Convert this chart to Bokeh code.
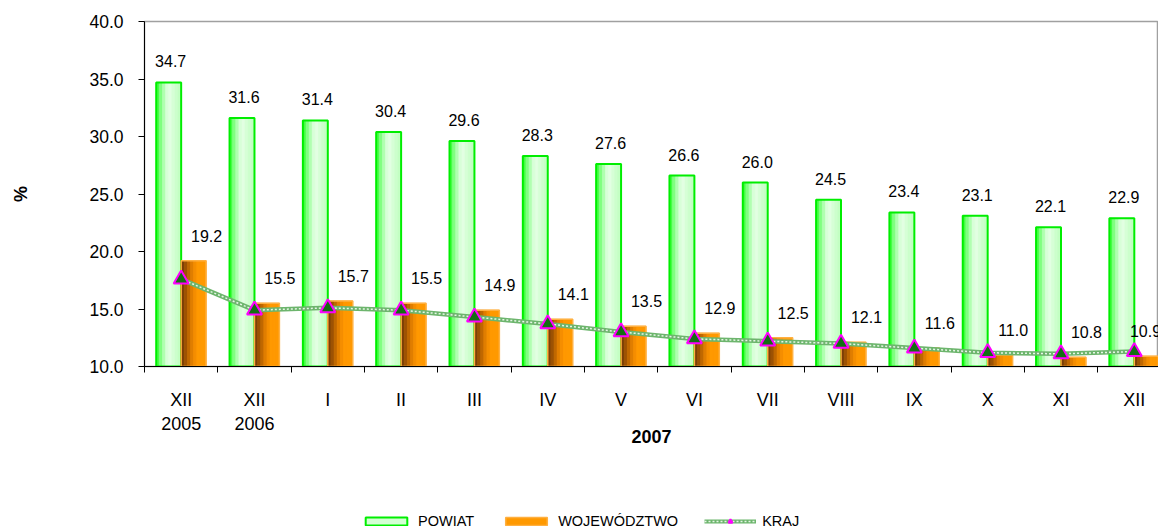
import numpy as np
from bokeh.plotting import figure
from bokeh.layouts import column
from bokeh.models import Range1d, FixedTicker, Legend, LegendItem, PrintfTickFormatter
from bokeh.core.properties import value
from bokeh.embed import file_html
from bokeh.resources import INLINE

# ---- data -------------------------------------------------------------
categories = ["XII\n2005", "XII\n2006", "I", "II", "III", "IV", "V", "VI",
              "VII", "VIII", "IX", "X", "XI", "XII"]
powiat = [34.7, 31.6, 31.4, 30.4, 29.6, 28.3, 27.6, 26.6, 26.0, 24.5, 23.4, 23.1, 22.1, 22.9]
wojewodztwo = [19.2, 15.5, 15.7, 15.5, 14.9, 14.1, 13.5, 12.9, 12.5, 12.1, 11.6, 11.0, 10.8, 10.9]
kraj = [17.6, 14.9, 15.1, 14.9, 14.3, 13.7, 13.0, 12.4, 12.2, 12.0, 11.6, 11.2, 11.1, 11.3]
y_ticks = [10, 15, 20, 25, 30, 35, 40]
series_names = ["POWIAT", "WOJEWÓDZTWO", "KRAJ"]
x_title = "2007"
y_title = "%"

FONT = "Liberation Sans"
idx = np.arange(len(categories))
BW = 0.34
BASE = y_ticks[0]
X_START, X_END = -0.5, 13.33
FRAME_W = 1158 - 144
PX = (X_END - X_START) / FRAME_W          # data units per pixel

# styles shared by the chart and the legend swatches
G_FILL, G_LINE = "#d4ffd4", "#00ee00"
O_FILL, O_LINE = "#ff9900", "#ffb040"
K_LINE, K_DOTS = "#6db56d", "#e6f5e6"
M_FILL, M_LINE = "#146e14", "#ff00ff"

p = figure(width=1158, height=505, output_backend="svg", toolbar_location=None,
           x_range=Range1d(X_START, X_END), y_range=Range1d(y_ticks[0], y_ticks[-1]),
           min_border_left=144, min_border_right=0, min_border_top=21,
           min_border_bottom=139)
p.background_fill_color = "white"
p.border_fill_color = "white"
p.outline_line_color = "#a0a0a0"
p.outline_line_width = 1.5
p.xgrid.visible = False
p.ygrid.visible = False

green_x = idx - BW / 2
orange_x = idx + BW / 2

# ---- POWIAT bars (gradient imitation) ---------------------------------
p.vbar(x=green_x, width=BW, top=powiat, bottom=BASE, fill_color=G_FILL, line_color=None)
green_strips = ["#44ff44", "#80ff80", "#b0ffb0", "#d8ffd8", "#e2ffe2", "#d6ffd6", "#ccffcc", "#c4ffc4"]
n = len(green_strips)
for k, col in enumerate(green_strips):
    p.vbar(x=green_x - BW / 2 + (k + 0.5) * BW / n, width=BW / n, top=powiat,
           bottom=BASE, fill_color=col, line_color=col, line_width=0.6)
p.vbar(x=green_x, width=BW, top=powiat, bottom=BASE,
       fill_color=None, line_color=G_LINE, line_width=2)

# ---- WOJEWODZTWO bars --------------------------------------------------
p.vbar(x=orange_x, width=BW, top=wojewodztwo, bottom=BASE, fill_color=O_FILL, line_color=None)
orange_strips = ["#7a3f08", "#9c5204", "#c06800", "#e07e00", "#f58e00", "#ff9900", "#ff9900", "#ff9900"]
n = len(orange_strips)
for k, col in enumerate(orange_strips):
    p.vbar(x=orange_x - BW / 2 + (k + 0.5) * BW / n, width=BW / n, top=wojewodztwo,
           bottom=BASE, fill_color=col, line_color=col, line_width=0.6)
p.vbar(x=orange_x, width=BW, top=wojewodztwo, bottom=BASE,
       fill_color=None, line_color=O_LINE, line_width=1.5)

# ---- KRAJ line ---------------------------------------------------------
p.line(idx, kraj, line_color=K_LINE, line_width=4.5)
p.line(idx, kraj, line_color=K_DOTS, line_width=1.5, line_dash="2 2")
p.scatter(idx, kraj, marker="triangle", size=15, fill_color=M_FILL,
          line_color=M_LINE, line_width=2)

# ---- data labels (kept inside the plot area like the original) ---------
p.text(x=green_x, y=powiat, text=[f"{v:.1f}" for v in powiat],
       text_align="center", text_baseline="middle", x_offset=2, y_offset=-21,
       text_font=value(FONT), text_font_size="16px", text_color="black")
o_lab_x = np.minimum(orange_x + 13 * PX, X_END - 13 * PX)
p.text(x=o_lab_x, y=wojewodztwo, text=[f"{v:.1f}" for v in wojewodztwo],
       text_align="center", text_baseline="middle", y_offset=-25,
       text_font=value(FONT), text_font_size="16px", text_color="black")

# ---- axes --------------------------------------------------------------
xa = p.xaxis[0]
xa.ticker = FixedTicker(ticks=list(idx), minor_ticks=[i - 0.5 for i in range(len(categories) + 1)])
xa.major_label_overrides = {int(i): categories[i] for i in idx}
xa.major_tick_line_color = None
xa.major_tick_out = 0
xa.major_tick_in = 0
xa.minor_tick_out = 6
xa.minor_tick_in = 0
xa.minor_tick_line_color = "black"
xa.axis_line_color = "black"
xa.major_label_standoff = 17
xa.major_label_text_font = FONT
xa.major_label_text_font_size = "18px"
xa.major_label_text_color = "black"
xa.axis_label = x_title
xa.axis_label_text_font = FONT
xa.axis_label_text_font_style = "bold"
xa.axis_label_text_font_size = "18px"
xa.axis_label_text_color = "black"
xa.axis_label_standoff = -7

ya = p.yaxis[0]
ya.ticker = FixedTicker(ticks=y_ticks)
ya.formatter = PrintfTickFormatter(format="%.1f")
ya.major_tick_out = 6
ya.major_tick_in = 0
ya.minor_tick_line_color = None
ya.axis_line_color = "black"
ya.major_label_standoff = 15
ya.major_label_text_font = FONT
ya.major_label_text_font_size = "17.5px"
ya.major_label_text_color = "black"
ya.axis_label = y_title
ya.axis_label_text_font = FONT
ya.axis_label_text_font_style = "bold"
ya.axis_label_text_font_size = "18px"
ya.axis_label_text_color = "black"
ya.axis_label_standoff = 55

# ---- legend strip (separate small figure under the chart) -------------
pl = figure(width=1158, height=24, output_backend="svg", toolbar_location=None,
            x_range=Range1d(X_START, X_END), y_range=Range1d(y_ticks[0], y_ticks[-1]),
            x_axis_location=None, y_axis_location=None, min_border=0)
pl.xgrid.visible = False
pl.ygrid.visible = False
pl.outline_line_color = None
pl.background_fill_color = "white"
pl.border_fill_color = "white"
# hidden proxies: the legend draws their styles as swatches
lg_g = pl.vbar(x=green_x, top=powiat, bottom=BASE, width=BW, fill_color=G_FILL,
               line_color=G_LINE, line_width=2, visible=False)
lg_o = pl.vbar(x=orange_x, top=wojewodztwo, bottom=BASE, width=BW, fill_color=O_FILL,
               line_color=O_LINE, line_width=1.5, visible=False)
lg_k1 = pl.line(idx, kraj, line_color=K_LINE, line_width=4, visible=False)
lg_k2 = pl.line(idx, kraj, line_color=K_DOTS, line_width=1.5, line_dash="2 2", visible=False)
lg_k3 = pl.scatter(idx, kraj, marker="triangle", size=11, fill_color=M_FILL,
                   line_color=M_LINE, line_width=2, visible=False)
legend = Legend(items=[LegendItem(label=series_names[0], renderers=[lg_g]),
                       LegendItem(label=series_names[1], renderers=[lg_o]),
                       LegendItem(label=series_names[2], renderers=[lg_k1, lg_k2, lg_k3])],
                orientation="horizontal", location=(216, 0),
                glyph_width=52, glyph_height=10, label_standoff=6, spacing=26,
                padding=0, margin=0, border_line_color=None, background_fill_alpha=0,
                inactive_fill_alpha=0,
                label_text_font=FONT, label_text_font_size="14.5px",
                label_text_color="black", label_height=15)
pl.add_layout(legend)

layout = column(p, pl, spacing=0)
open("out.html", "w").write(file_html(layout, INLINE))
